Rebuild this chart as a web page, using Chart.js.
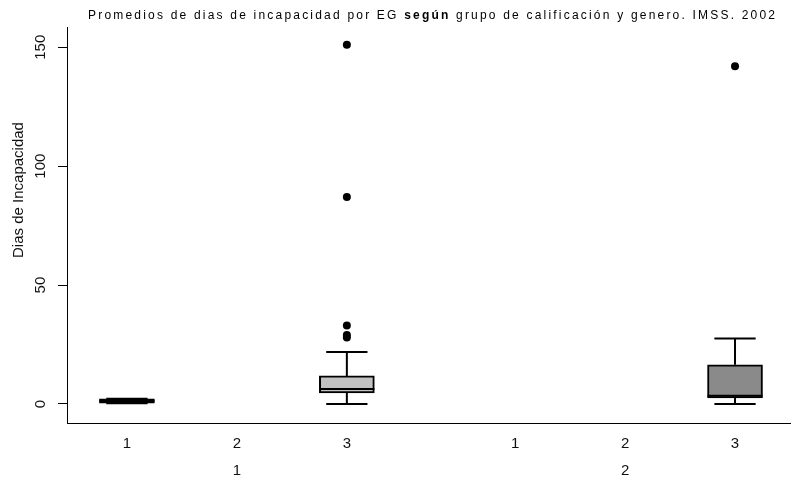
<!DOCTYPE html>
<html>
<head>
<meta charset="utf-8">
<script src="https://cdn.jsdelivr.net/npm/chart.js@4.4.1/dist/chart.umd.min.js"></script>
<style>
  html, body { margin: 0; padding: 0; background: #fff; }
  #wrap { position: relative; width: 794px; height: 480px; }
  #title {
    position: absolute; left: 88px; top: 8px; white-space: nowrap;
    font-family: "Liberation Sans", Arial, sans-serif; font-size: 12px;
    letter-spacing: 2.2px; color: #000;
  }
  canvas { display: block; }
</style>
</head>
<body>
<div id="wrap">
  <canvas id="boxChart" width="794" height="480"></canvas>
  <div id="title">Promedios de dias de incapacidad por EG <b>según</b> grupo de calificación y genero. IMSS. 2002</div>
</div>
<script>
// 1. DATA
// ------------------------------------------------------------------
const categories  = ['1', '2', '3', '1', '2', '3'];   // grupo de calificación
const categoryPos = [1, 2, 3, 4.53, 5.53, 6.53];      // x position of each category
const groups      = ['1', '2'];                       // genero
const groupPos    = [2, 5.53];

// box stats per category (null = no data)
const whiskerLow  = [0.3, null, 0,    null, null, 0];
const q1          = [0.3, null, 4.6,  null, null, 2.5];
const medians     = [1.2, null, 6.3,  null, null, 3.5];
const q3          = [2.2, null, 11.8, null, null, 16.5];
const whiskerHigh = [2.2, null, 21.8, null, null, 27.5];
const boxColors   = ['#3a3a3a', null, '#c2c2c2', null, null, '#8a8a8a'];

// outliers: category index + value
const outlierCat  = [2, 2, 2, 2, 2, 5];
const outlierVals = [28, 29, 33, 87, 151, 142];

const yTicks = [0, 50, 100, 150];

// 2. BUILD DATASETS
// ------------------------------------------------------------------
const boxIdx = categories.map((_, i) => i).filter(i => q1[i] !== null);

const boxData = boxIdx.map(i => ({ x: categoryPos[i], y: [q1[i], q3[i]] }));
const outlierData = outlierVals.map((v, k) => ({ x: categoryPos[outlierCat[k]], y: v }));

// whiskers, caps, medians and rotated y labels
const boxExtras = {
    id: 'boxExtras',
    afterDatasetsDraw(chart) {
        const { ctx, scales: { x, y } } = chart;
        const bars = chart.getDatasetMeta(0).data;
        ctx.save();
        ctx.strokeStyle = '#000';
        ctx.lineWidth = 2;
        boxIdx.forEach((i, k) => {
            const cx = x.getPixelForValue(categoryPos[i]);
            const half = bars[k].width / 2;
            const cap = half * 0.75;
            ctx.beginPath();
            // upper whisker
            ctx.moveTo(cx, y.getPixelForValue(q3[i]));
            ctx.lineTo(cx, y.getPixelForValue(whiskerHigh[i]));
            ctx.moveTo(cx - cap, y.getPixelForValue(whiskerHigh[i]));
            ctx.lineTo(cx + cap, y.getPixelForValue(whiskerHigh[i]));
            // lower whisker
            ctx.moveTo(cx, y.getPixelForValue(q1[i]));
            ctx.lineTo(cx, y.getPixelForValue(whiskerLow[i]));
            ctx.moveTo(cx - cap, y.getPixelForValue(whiskerLow[i]));
            ctx.lineTo(cx + cap, y.getPixelForValue(whiskerLow[i]));
            // median
            ctx.moveTo(cx - half, y.getPixelForValue(medians[i]));
            ctx.lineTo(cx + half, y.getPixelForValue(medians[i]));
            ctx.stroke();
        });
        ctx.restore();
    },
    afterDraw(chart) {
        const { ctx, scales: { y } } = chart;
        ctx.save();
        ctx.fillStyle = '#111';
        ctx.textAlign = 'center';
        ctx.textBaseline = 'middle';
        ctx.font = '15px "Liberation Sans", Arial, sans-serif';
        y.ticks.forEach(t => {
            ctx.save();
            ctx.translate(41, y.getPixelForValue(t.value));
            ctx.rotate(-Math.PI / 2);
            ctx.fillText(String(t.value), 0, 0);
            ctx.restore();
        });
        ctx.translate(19, 190);
        ctx.rotate(-Math.PI / 2);
        ctx.fillText('Dias de Incapacidad', 0, 0);
        ctx.restore();
    }
};

// 3. CHART
// ------------------------------------------------------------------
const tickFont = { family: '"Liberation Sans", Arial, sans-serif', size: 15 };

new Chart(document.getElementById('boxChart'), {
    type: 'bar',
    data: {
        datasets: [{
            type: 'bar',
            data: boxData,
            backgroundColor: boxIdx.map(i => boxColors[i]),
            borderColor: '#000',
            borderWidth: 2,
            borderSkipped: false,
            barThickness: 55
        }, {
            type: 'scatter',
            data: outlierData,
            pointRadius: 4,
            pointBackgroundColor: '#000',
            pointBorderColor: '#000',
            pointBorderWidth: 0
        }]
    },
    options: {
        responsive: false,
        animation: false,
        layout: { padding: { top: 27, right: 4, left: 0, bottom: 0 } },
        plugins: { legend: { display: false }, tooltip: { enabled: false } },
        scales: {
            x: {
                type: 'linear', position: 'bottom', min: 0.455, max: 7.03, offset: false,
                grid: { display: false, drawTicks: false },
                border: { display: true, color: '#000', width: 1 },
                afterBuildTicks: s => { s.ticks = categoryPos.map(v => ({ value: v })); },
                ticks: {
                    autoSkip: false, maxRotation: 0, padding: 12, color: '#111', font: tickFont,
                    callback: (v, i) => categories[i]
                },
                afterFit: s => { s.height = 31; }
            },
            xg: {
                type: 'linear', position: 'bottom', weight: 1, min: 0.455, max: 7.03, offset: false,
                grid: { display: false, drawTicks: false },
                border: { display: false },
                afterBuildTicks: s => { s.ticks = groupPos.map(v => ({ value: v })); },
                ticks: {
                    autoSkip: false, maxRotation: 0, padding: 8, color: '#111', font: tickFont,
                    callback: (v, i) => groups[i]
                },
                afterFit: s => { s.height = 26; }
            },
            y: {
                min: -8, max: 158.5,
                afterBuildTicks: s => { s.ticks = yTicks.map(v => ({ value: v })); },
                grid: { display: true, drawOnChartArea: false, drawTicks: true, tickLength: 9, color: '#000' },
                border: { display: true, color: '#000', width: 1 },
                ticks: { display: false },
                afterFit: s => { s.width = 67; }
            }
        }
    },
    plugins: [boxExtras]
});
</script>
</body>
</html>
